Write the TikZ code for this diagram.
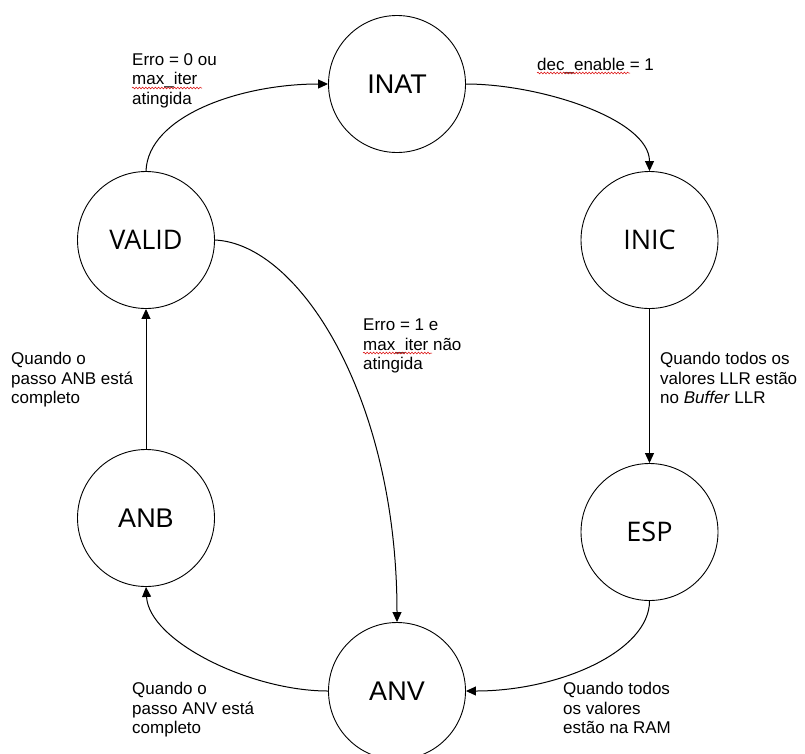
\documentclass[tikz,border=0pt]{standalone}
\usepackage{fontspec}
\setmainfont{Liberation Sans}
\newfontfamily\roundsans{Open Sans}
\usetikzlibrary{arrows.meta,decorations.pathmorphing}

\begin{document}
\begin{tikzpicture}[x=1pt,y=-1pt,
  state/.style={circle,draw,line width=0.9pt,minimum size=137pt,inner sep=0pt,
    font=\fontsize{27}{32}\selectfont},
  stateround/.style={state,font=\roundsans\fontsize{27}{32}\selectfont},
  edge/.style={draw,line width=1pt,-{Triangle[length=10pt,width=9pt]}},
  lbl/.style={anchor=north west,inner sep=0pt,align=left,
    font=\fontsize{17}{19.5}\selectfont},
  squig/.style={red!85!black,line width=0.5pt,decorate,
    decoration={snake,amplitude=0.9pt,segment length=3.2pt}}
]
\useasboundingbox (0,0) rectangle (805,753);

% states
\node[state]       (inat)  at (397,84)    {INAT};
\node[stateround]  (inic)  at (649.5,240) {INIC};
\node[stateround]  (esp)   at (649.5,532) {ESP};
\node[state]       (anv)   at (397,691)   {ANV};
\node[state]       (anb)   at (146,518)   {ANB};
\node[stateround]  (valid) at (146,240)   {VALID};

% transitions
\draw[edge] (inat.east) .. controls +(74,0) and +(0,-52) .. (inic.north);
\draw[edge] (inic.south) -- (esp.north);
\draw[edge] (esp.south) .. controls +(0,50) and +(94,0) .. (anv.east);
\draw[edge] (anv.west) .. controls +(-78,0) and +(3,54) .. (anb.south);
\draw[edge] (anb.north) -- (valid.north |- valid.south);
\draw[edge] (valid.north) .. controls +(2,-55) and +(-88,0) .. (inat.west);
\draw[edge] (valid.east) .. controls +(85,4) and +(0,-223) .. (anv.north);

% transition labels
\node[lbl] (l1) at (132,53)  {Erro = 0 ou\\max\_iter\\atingida};
\node[lbl] (l2) at (537,58)  {dec\_enable = 1};
\node[lbl] (l3) at (363,319) {Erro = 1 e\\max\_iter não\\atingida};
\node[lbl] (l4) at (11,352)  {Quando o\\passo ANB está\\completo};
\node[lbl] (l5) at (660,352) {Quando todos os\\valores LLR estão\\no \textit{Buffer} LLR};
\node[lbl] (l6) at (132,682) {Quando o\\passo ANV está\\completo};
\node[lbl] (l7) at (563,682) {Quando todos\\os valores\\estão na RAM};

% spell-check marks under identifiers
\draw[squig] (132,88) -- (202,88);
\draw[squig] (363,353) -- (432,353);
\draw[squig] (537,73) -- (630,73);
\end{tikzpicture}
\end{document}
